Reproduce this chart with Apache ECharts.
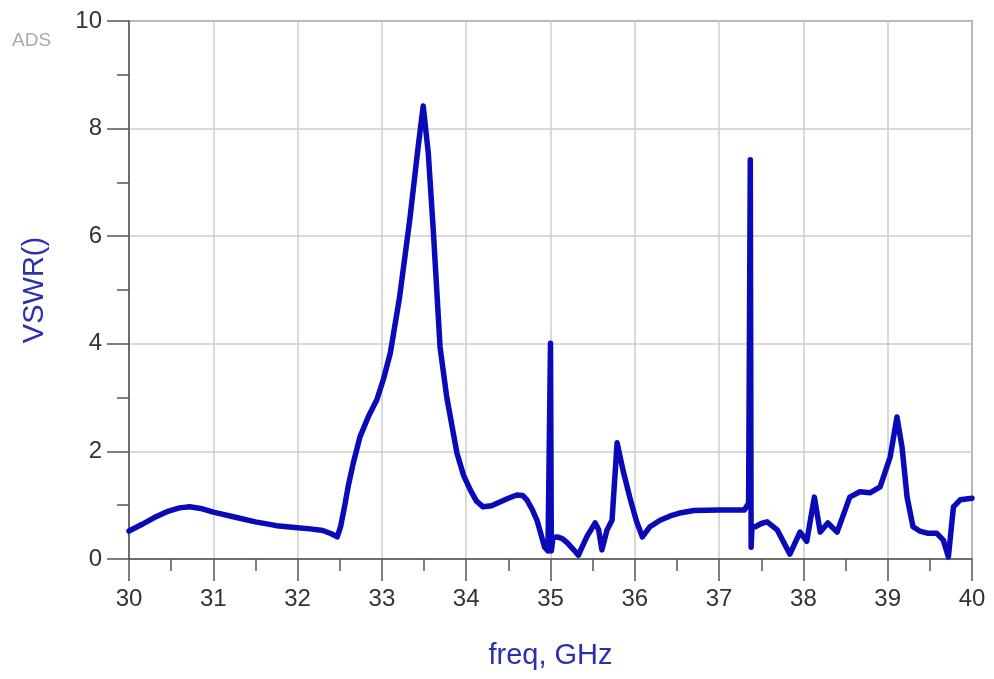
<!DOCTYPE html>
<html>
<head>
<meta charset="utf-8">
<script src="https://cdn.jsdelivr.net/npm/echarts@6/dist/echarts.min.js"></script>
<style>html,body{margin:0;padding:0;background:#fff}#c{width:994px;height:679px}</style>
</head>
<body>
<div id="c"></div>
<script>
const freq = [30.0, 30.15, 30.3, 30.45, 30.6, 30.72, 30.85, 31.0, 31.25, 31.5, 31.75, 32.0, 32.15, 32.3, 32.4, 32.47, 32.51, 32.56, 32.6, 32.66, 32.74, 32.84, 32.94, 33.02, 33.1, 33.21, 33.33, 33.43, 33.49, 33.55, 33.61, 33.69, 33.77, 33.89, 33.97, 34.05, 34.12, 34.2, 34.3, 34.4, 34.5, 34.6, 34.67, 34.72, 34.78, 34.84, 34.93, 34.97, 34.99, 35.0, 35.01, 35.03, 35.08, 35.14, 35.2, 35.27, 35.33, 35.43, 35.53, 35.57, 35.61, 35.67, 35.73, 35.79, 35.86, 35.94, 36.02, 36.09, 36.18, 36.3, 36.42, 36.55, 36.7, 37.0, 37.3, 37.35, 37.37, 37.38, 37.39, 37.43, 37.5, 37.57, 37.69, 37.77, 37.84, 37.96, 38.04, 38.13, 38.2, 38.29, 38.4, 38.55, 38.67, 38.79, 38.91, 39.03, 39.11, 39.17, 39.23, 39.3, 39.38, 39.47, 39.58, 39.66, 39.72, 39.78, 39.86, 40.0];
const vswr = [0.52, 0.64, 0.77, 0.88, 0.95, 0.97, 0.94, 0.87, 0.78, 0.69, 0.62, 0.58, 0.56, 0.53, 0.47, 0.41, 0.6, 1.0, 1.35, 1.78, 2.27, 2.65, 2.96, 3.35, 3.83, 4.87, 6.3, 7.66, 8.42, 7.55, 6.1, 3.94, 3.0, 1.97, 1.55, 1.28, 1.08, 0.97, 0.99, 1.06, 1.13, 1.19, 1.18, 1.1, 0.93, 0.72, 0.22, 0.15, 0.17, 4.01, 0.15, 0.4, 0.41, 0.38, 0.3, 0.18, 0.07, 0.41, 0.67, 0.55, 0.17, 0.54, 0.72, 2.16, 1.65, 1.15, 0.7, 0.41, 0.6, 0.72, 0.8, 0.86, 0.9, 0.91, 0.91, 1.04, 7.42, 0.22, 0.6, 0.6, 0.66, 0.69, 0.54, 0.3, 0.09, 0.5, 0.33, 1.15, 0.5, 0.67, 0.5, 1.15, 1.25, 1.23, 1.34, 1.9, 2.64, 2.08, 1.15, 0.6, 0.52, 0.48, 0.48, 0.35, 0.04, 0.97, 1.1, 1.13];
const xTicks = [30, 31, 32, 33, 34, 35, 36, 37, 38, 39, 40];
const yTicks = [0, 2, 4, 6, 8, 10];

const FONT = 'Liberation Sans, Arial, sans-serif';
const chart = echarts.init(document.getElementById('c'), null, {renderer: 'canvas'});
chart.setOption({
  animation: false,
  backgroundColor: '#fff',
  grid: {left: 129, right: 22, top: 21, bottom: 120, show: true, borderColor: '#555', borderWidth: 1.5},
  graphic: [{type: 'text', left: 12, top: 31, style: {text: 'ADS', fill: '#aaa', font: '19px ' + FONT}}],
  xAxis: {
    type: 'value', min: xTicks[0], max: xTicks[xTicks.length - 1], interval: 1,
    name: 'freq, GHz', nameLocation: 'middle', nameGap: 82,
    nameTextStyle: {color: '#2e2eb0', fontSize: 29, fontFamily: FONT},
    axisLine: {show: true, lineStyle: {color: '#555', width: 1.5}},
    axisTick: {show: true, inside: false, length: 22, lineStyle: {color: '#555', width: 1.5}},
    minorTick: {show: true, splitNumber: 2, length: 12, lineStyle: {color: '#555', width: 1.5}},
    splitLine: {show: true, lineStyle: {color: '#ccc', width: 1.5}},
    axisLabel: {color: '#333', fontSize: 24, fontFamily: FONT, margin: 28}
  },
  yAxis: {
    type: 'value', min: yTicks[0], max: yTicks[yTicks.length - 1], interval: 2,
    name: 'VSWR()', nameLocation: 'middle', nameGap: 80,
    nameTextStyle: {color: '#2e2eb0', fontSize: 29, fontFamily: FONT},
    axisLine: {show: true, lineStyle: {color: '#555', width: 1.5}},
    axisTick: {show: true, inside: false, length: 22, lineStyle: {color: '#555', width: 1.5}},
    minorTick: {show: true, splitNumber: 2, length: 12, lineStyle: {color: '#555', width: 1.5}},
    splitLine: {show: true, lineStyle: {color: '#ccc', width: 1.5}},
    axisLabel: {color: '#333', fontSize: 24, fontFamily: FONT, margin: 27}
  },
  series: [{
    type: 'line', showSymbol: false, smooth: false,
    data: freq.map((f, i) => [f, vswr[i]]),
    lineStyle: {color: '#0a0ab8', width: 5.5, join: 'round', cap: 'round'},
    clip: true
  }]
});
</script>
</body>
</html>
